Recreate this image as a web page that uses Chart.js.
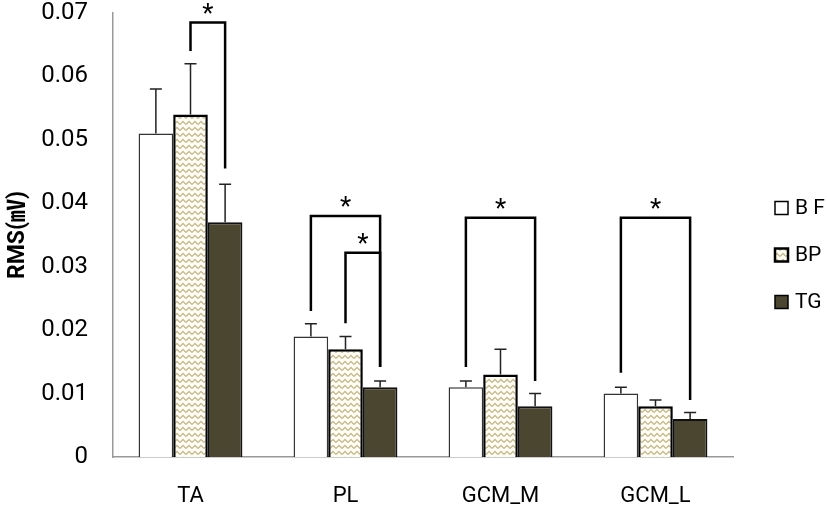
<!DOCTYPE html>
<html>
<head>
<meta charset="utf-8">
<script src="https://cdn.jsdelivr.net/npm/chart.js@4"></script>
<style>
  body { margin: 0; background: #fff; }
  #wrap { width: 827px; height: 510px; }
</style>
</head>
<body>
<div id="wrap"><canvas id="canvas1" width="827" height="510"></canvas></div>
<script>
var muscles = ["TA", "PL", "GCM_M", "GCM_L"];
var seriesNames = ["B F", "BP", "TG"];
var bfRms = [0.051, 0.019, 0.011, 0.010];
var bpRms = [0.054, 0.017, 0.013, 0.008];
var tgRms = [0.037, 0.011, 0.008, 0.006];
var bfErr = [0.007, 0.002, 0.001, 0.001];
var bpErr = [0.008, 0.002, 0.004, 0.001];
var tgErr = [0.006, 0.001, 0.002, 0.001];
var yTicks = [0, 0.01, 0.02, 0.03, 0.04, 0.05, 0.06, 0.07];

// significance brackets: category, from series, to series, top value, leg ends
var brackets = [
  { cat: 0, from: 1, to: 2, top: 0.0685, fromEnd: 0.0640, toEnd: 0.0455 },
  { cat: 1, from: 0, to: 2, top: 0.0380, fromEnd: 0.0230, toEnd: 0.0142 },
  { cat: 1, from: 1, to: 2, top: 0.0322, fromEnd: 0.0211, toEnd: 0.0142 },
  { cat: 2, from: 0, to: 2, top: 0.0377, fromEnd: 0.0142, toEnd: 0.0120 },
  { cat: 3, from: 0, to: 2, top: 0.0377, fromEnd: 0.0133, toEnd: 0.0090 }
];

function zigzag() {
  var c = document.createElement('canvas');
  c.width = 6; c.height = 6;
  var g = c.getContext('2d');
  g.fillStyle = '#fffdf6';
  g.fillRect(0, 0, 6, 6);
  g.strokeStyle = '#c6bb8c';
  g.lineWidth = 1.3;
  g.beginPath();
  g.moveTo(0, 4.5); g.lineTo(3, 1.5); g.lineTo(6, 4.5);
  g.stroke();
  return g.createPattern(c, 'repeat');
}

var errs = [bfErr, bpErr, tgErr];

var errorBars = {
  id: 'errorBars',
  afterDatasetsDraw: function(chart) {
    var c = chart.ctx, y = chart.scales.y;
    c.save();
    c.strokeStyle = '#222';
    c.lineWidth = 1.5;
    chart.data.datasets.forEach(function(ds, i) {
      chart.getDatasetMeta(i).data.forEach(function(bar, j) {
        var yt = y.getPixelForValue(ds.data[j] + errs[i][j]);
        c.beginPath();
        c.moveTo(bar.x, bar.y);
        c.lineTo(bar.x, yt);
        c.moveTo(bar.x - 6, yt);
        c.lineTo(bar.x + 6, yt);
        c.stroke();
      });
    });
    c.restore();
  }
};

var sigMarks = {
  id: 'sigMarks',
  afterDatasetsDraw: function(chart) {
    var c = chart.ctx, y = chart.scales.y;
    c.save();
    c.strokeStyle = '#000';
    c.lineWidth = 2.5;
    c.fillStyle = '#000';
    c.font = '26px Roboto';
    c.textAlign = 'center';
    c.textBaseline = 'middle';
    brackets.forEach(function(b) {
      var x1 = chart.getDatasetMeta(b.from).data[b.cat].x;
      var x2 = chart.getDatasetMeta(b.to).data[b.cat].x;
      var yt = y.getPixelForValue(b.top);
      c.beginPath();
      c.moveTo(x1, y.getPixelForValue(b.fromEnd));
      c.lineTo(x1, yt);
      c.lineTo(x2, yt);
      c.lineTo(x2, y.getPixelForValue(b.toEnd));
      c.stroke();
      c.fillText('*', (x1 + x2) / 2, yt - 7);
    });
    c.restore();
  }
};

var sideLegend = {
  id: 'sideLegend',
  afterDraw: function(chart) {
    var c = chart.ctx;
    c.save();
    c.font = '21px Roboto';
    c.textBaseline = 'middle';
    chart.data.datasets.forEach(function(ds, i) {
      var cy = 208 + i * 47;
      c.fillStyle = ds.backgroundColor;
      c.fillRect(775, cy - 6.5, 13, 13);
      c.strokeStyle = '#000';
      c.lineWidth = i === 1 ? 2.5 : 1.5;
      c.strokeRect(775, cy - 6.5, 13, 13);
      c.fillStyle = '#000';
      c.fillText(ds.label, 795, cy + 1);
    });
    c.restore();
  }
};

var ctx = document.getElementById('canvas1').getContext('2d');
var chart = new Chart(ctx, {
  type: 'bar',
  data: {
    labels: muscles,
    datasets: [
      { label: seriesNames[0], data: bfRms, backgroundColor: '#ffffff', borderColor: '#333', borderWidth: 1.5 },
      { label: seriesNames[1], data: bpRms, backgroundColor: zigzag(), borderColor: '#000', borderWidth: 2.5 },
      { label: seriesNames[2], data: tgRms, backgroundColor: '#4b4630', borderColor: '#111', borderWidth: 2 }
    ]
  },
  options: {
    responsive: false,
    animation: false,
    categoryPercentage: 0.67,
    barPercentage: 1.0,
    layout: { padding: { top: 13, right: 94, left: 0, bottom: 0 } },
    plugins: { legend: { display: false }, tooltip: { enabled: false } },
    scales: {
      x: {
        grid: { display: false, drawTicks: false },
        border: { color: '#999', width: 1.5 },
        ticks: { color: '#000', font: { family: 'Roboto', size: 22 }, padding: 26 },
        afterFit: function(s) { s.height = 53; s.paddingLeft = 0; s.paddingRight = 0; }
      },
      y: {
        min: 0,
        max: 0.07,
        afterBuildTicks: function(s) { s.ticks = yTicks.map(function(v) { return { value: v }; }); },
        grid: { display: false, drawTicks: false },
        border: { color: '#999', width: 1.5 },
        ticks: {
          color: '#000',
          font: { family: 'Roboto', size: 24 },
          padding: 25,
          callback: function(v) { return v === 0 ? '0' : v.toFixed(2); }
        },
        title: {
          display: true,
          text: 'RMS(㎷)',
          color: '#000',
          font: { family: 'Roboto, "Noto Sans CJK KR"', size: 23, weight: 'bold' },
          padding: { top: 4, bottom: 0 }
        },
        afterFit: function(s) { s.width = 113; s.paddingTop = 0; s.paddingBottom = 0; }
      }
    }
  },
  plugins: [errorBars, sigMarks, sideLegend]
});
</script>
</body>
</html>
